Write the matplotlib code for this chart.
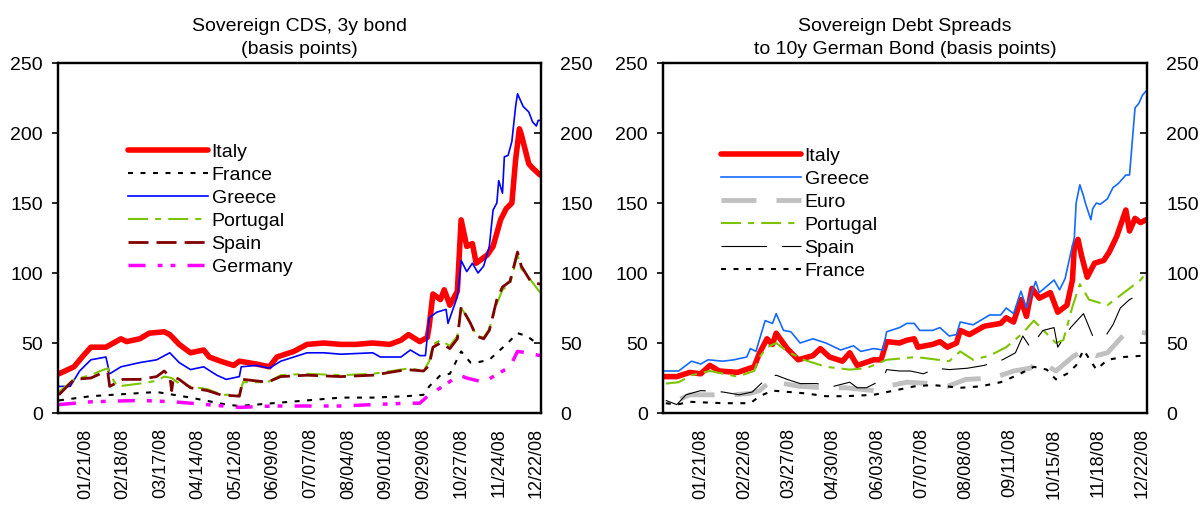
import numpy as np
import matplotlib
matplotlib.use("Agg")
import matplotlib.pyplot as plt

plt.rcParams['font.family'] = ['Liberation Sans', 'DejaVu Sans']

# ---------------- Sovereign CDS, 3y (business days counted from 2008-01-01) ----------------
cds_start = '2008-01-01'
cds_last_day = 256
cds_tick_dates = ['2008-01-21', '2008-02-18', '2008-03-17', '2008-04-14', '2008-05-12',
                  '2008-06-09', '2008-07-07', '2008-08-04', '2008-09-01', '2008-09-29',
                  '2008-10-27', '2008-11-24', '2008-12-22']
cds_tick_labels = ['01/21/08', '02/18/08', '03/17/08', '04/14/08', '05/12/08', '06/09/08',
                   '07/07/08', '08/04/08', '09/01/08', '09/29/08', '10/27/08', '11/24/08',
                   '12/22/08']

cds_italy_days = [0, 8, 13, 17, 25, 33, 36, 43, 48, 56, 59, 64, 70, 77, 80, 86, 93, 96, 105,
                  112, 116, 125, 132, 141, 150, 158, 167, 176, 182, 186, 192, 196, 197, 199,
                  203, 205, 208, 212, 214, 217, 220, 222, 228, 231, 235, 238, 241, 243, 245,
                  246, 250, 252, 256]
cds_italy = [28, 33, 41, 47, 47, 53, 51, 53, 57, 58, 56, 49, 43, 45, 40, 37, 34, 37, 35,
             33, 40, 44, 49, 50, 49, 49, 50, 49, 52, 56, 51, 54, 62, 85,
             81, 88, 77, 87, 138, 119, 121, 107, 113, 119, 138, 146, 150, 181, 203,
             199, 178, 175, 170]

cds_france_days = [0, 17, 52, 70, 89, 96, 114, 132, 150, 167, 185, 194, 197, 203, 208, 214,
                   219, 222, 229, 238, 244, 249, 254, 256]
cds_france = [9, 12, 15, 11, 6, 5, 7, 9, 11, 11, 12, 13, 19, 27, 28, 44,
              36, 36, 38, 49, 57, 55, 50, 50]

cds_greece_days = [0, 6, 11, 17, 25, 27, 33, 43, 52, 59, 64, 70, 77, 84, 89, 96, 97, 105,
                   112, 118, 125, 132, 141, 150, 167, 171, 182, 187, 192, 195, 197, 201, 206,
                   207, 212, 213, 214, 217, 220, 223, 226, 229, 231, 233, 234, 236, 237, 239,
                   241, 243, 244, 247, 250, 252, 254, 255, 256]
cds_greece = [19, 19, 30, 38, 40, 28, 33, 36, 38, 43, 36, 31, 33, 27, 24, 26, 33, 34,
              32, 37, 40, 43, 43, 42, 43, 40, 40, 45, 41, 41, 68, 72, 74,
              64, 83, 95, 109, 101, 107, 100, 105, 119, 145, 150, 166, 157, 183, 184,
              194, 219, 228, 219, 215, 208, 205, 209, 209]

cds_portugal_days = [0, 8, 17, 22, 26, 27, 31, 43, 52, 56, 60, 64, 70, 79, 87, 96, 98, 111,
                     118, 132, 150, 167, 187, 194, 197, 199, 203, 208, 212, 214, 219, 222,
                     226, 229, 233, 236, 240, 244, 246, 251, 256]
cds_portugal = [15, 24, 27, 30, 32, 28, 19, 21, 23, 26, 25, 21, 19, 17, 13, 13, 22, 22,
                27, 28, 27, 28, 32, 30, 37, 49, 52, 48, 55, 75, 65, 55,
                54, 60, 78, 88, 92, 113, 103, 95, 86]

cds_spain_days = [0, 8, 17, 22, 26, 27, 34, 43, 52, 56, 59, 60, 61, 64, 70, 79, 86, 96, 98,
                  111, 118, 132, 150, 167, 185, 194, 197, 199, 203, 208, 212, 214, 219, 222,
                  226, 229, 233, 236, 240, 244, 246, 251, 256]
cds_spain = [13, 24, 25, 28, 29, 19, 24, 24, 26, 30, 26, 16, 26, 24, 18, 16, 13, 12, 24,
             22, 26, 27, 26, 27, 31, 30, 34, 47, 50, 46, 53, 76, 64, 55,
             53, 59, 81, 90, 94, 115, 105, 94, 92]

cds_germany_days = [0, 17, 43, 61, 79, 96, 114, 132, 150, 167, 185, 192, 197, 203, 213, 217,
                    226, 231, 240, 244, 249, 256]
cds_germany = [6, 8, 9, 8, 6, 4, 5, 5, 5, 6, 7, 7, 13, 18, 27, 25,
               22, 26, 33, 44, 43, 41]

# ------------- Spreads to 10y Bund (business days counted from 2007-12-24) -------------
spr_start = '2007-12-24'
spr_last_day = 262
spr_tick_dates = ['2008-01-21', '2008-02-22', '2008-03-27', '2008-04-30', '2008-06-03',
                  '2008-07-07', '2008-08-08', '2008-09-11', '2008-10-15', '2008-11-18',
                  '2008-12-22']
spr_tick_labels = ['01/21/08', '02/22/08', '03/27/08', '04/30/08', '06/03/08', '07/07/08',
                   '08/08/08', '09/11/08', '10/15/08', '11/18/08', '12/22/08']

spr_italy_days = [0, 7, 14, 20, 25, 30, 40, 49, 52, 56, 59, 61, 67, 73, 81, 85, 90, 97, 101,
                  105, 114, 118, 121, 128, 132, 136, 138, 146, 150, 154, 159, 161, 166, 174,
                  183, 186, 190, 194, 197, 200, 204, 210, 214, 219, 222, 223, 225, 227, 230,
                  234, 239, 242, 246, 251, 253, 256, 259, 262]
spr_italy = [26, 26, 29, 28, 34, 30, 29, 33, 43, 53, 49, 57, 46, 38, 41, 46, 40, 37, 43,
             34, 38, 38, 51, 50, 52, 53, 47, 49, 51, 47, 50, 59, 56, 62,
             64, 68, 65, 81, 69, 89, 82, 86, 72, 77, 95, 119, 124, 112, 97,
             107, 109, 115, 126, 145, 130, 139, 136, 138]

spr_greece_days = [0, 8, 15, 20, 24, 32, 38, 45, 47, 50, 55, 59, 61, 65, 69, 74, 81, 88, 96,
                   103, 107, 114, 119, 121, 128, 132, 136, 139, 146, 150, 155, 159, 161, 168,
                   177, 183, 186, 190, 194, 197, 202, 204, 212, 215, 218, 221, 223, 224, 226,
                   228, 229, 232, 233, 235, 237, 241, 244, 247, 251, 253, 256, 258, 260, 262]
spr_greece = [30, 30, 37, 35, 38, 37, 38, 40, 46, 44, 66, 64, 71, 59, 58, 50, 53, 50, 45,
              48, 44, 46, 45, 58, 61, 64, 64, 59, 59, 61, 55, 56, 65, 63,
              70, 70, 75, 71, 87, 75, 94, 86, 95, 88, 96, 114, 125, 150, 163,
              155, 150, 138, 146, 150, 149, 153, 161, 164, 170, 170, 218, 221, 227, 230]

spr_euro_days = [9, 14, 20, 38, 47, 52, 59, 65, 74, 88, 99, 114, 121, 132, 146, 154, 164,
                 179, 190, 199, 204, 213, 222, 228, 235, 241, 250, 259, 262]
spr_euro = [10, 13, 13, 13, 14, 16, 24, 21, 19, 18, 18, 16, 19, 22, 21, 19, 24,
            25, 30, 32, 37, 30, 40, 45, 41, 43, 56, 58, 57]

spr_portugal_days = [1, 8, 15, 25, 40, 49, 52, 56, 61, 67, 76, 88, 101, 110, 121, 137, 155,
                     161, 168, 177, 186, 195, 201, 204, 213, 217, 222, 226, 231, 241, 250,
                     259, 262]
spr_portugal = [21, 22, 27, 30, 26, 30, 40, 47, 50, 44, 38, 33, 31, 32, 38, 40, 37,
                44, 38, 41, 47, 57, 66, 62, 50, 52, 76, 92, 81, 77, 86,
                95, 100]

spr_spain_days = [1, 7, 12, 20, 32, 41, 48, 56, 61, 67, 74, 83, 92, 101, 105, 110, 119, 121,
                  128, 134, 141, 148, 155, 165, 174, 184, 191, 195, 199, 202, 206, 212, 214,
                  221, 228, 233, 240, 244, 248, 253, 261]
spr_spain = [9, 6, 13, 16, 15, 13, 15, 25, 27, 24, 21, 21, 19, 22, 18, 18, 24, 31,
             30, 30, 28, 32, 31, 32, 34, 38, 43, 55, 47, 52, 59, 61, 47,
             61, 71, 55, 55, 63, 75, 81, 86]

spr_france_days = [1, 7, 14, 32, 47, 52, 59, 68, 77, 88, 99, 114, 125, 136, 146, 161, 172,
                   183, 192, 201, 208, 213, 219, 224, 228, 235, 241, 250, 261]
spr_france = [7, 6, 8, 7, 7, 12, 16, 15, 14, 12, 12, 13, 16, 19, 20, 18, 19,
              22, 27, 33, 31, 24, 28, 34, 45, 31, 38, 40, 41]

y_ticks = [0, 50, 100, 150, 200, 250]

# ---------------- styles ----------------
RED = '#FF0000'
style_italy = dict(color=RED, lw=4.0, solid_capstyle='round')
style_france = dict(color='black', lw=1.5, dashes=(2.4, 3.6))
style_portugal = dict(color='#7DC400', lw=1.5, dashes=(9.6, 3.4, 2.9, 3.4))
TICK_FS = 13
TEXT_FS = 14

fig = plt.figure(figsize=(12.04, 5.05), dpi=100)
W, H = 1204, 505


def make_axes(x0, x1):
    ax = fig.add_axes([x0 / W, (H - 413) / H, (x1 - x0) / W, 350 / H])
    for sp in ax.spines.values():
        sp.set_linewidth(1.6)
        sp.set_color('black')
    return ax


def finish_axes(ax, start, last_day, tick_dates, tick_labels):
    ax.set_xlim(-0.5, last_day + 0.5)
    ax.set_ylim(0, 250)
    ax.set_yticks(y_ticks)
    ax.tick_params(axis='y', direction='out', length=4, width=1.2, pad=7,
                   labelsize=TEXT_FS)
    pos = np.busday_count(start, tick_dates)
    ax.set_xticks(pos)
    ax.set_xticklabels(tick_labels, rotation=90, fontsize=TICK_FS)
    ax.tick_params(axis='x', length=0, pad=11)
    twin = ax.twinx()
    twin.set_ylim(0, 250)
    twin.set_yticks(y_ticks)
    twin.tick_params(axis='y', direction='in', length=5, width=1.2, pad=14,
                     labelsize=TEXT_FS)
    for sp in twin.spines.values():
        sp.set_linewidth(1.6)


def add_legend(ax, x_px, y_px):
    ax.legend(loc='upper left', bbox_to_anchor=(x_px / W, 1 - y_px / H),
              bbox_transform=fig.transFigure, frameon=False, fontsize=TEXT_FS,
              handlelength=4.1, handletextpad=0.2, labelspacing=0.28, borderpad=0,
              borderaxespad=0)


# ---------------- left panel ----------------
axL = make_axes(58, 541)
axL.plot(cds_italy_days, cds_italy, label='Italy', **style_italy)
axL.plot(cds_france_days, cds_france, label='France', **style_france)
axL.plot(cds_greece_days, cds_greece, label='Greece', color='#0000FF', lw=1.2)
axL.plot(cds_portugal_days, cds_portugal, label='Portugal', **style_portugal)
axL.plot(cds_spain_days, cds_spain, label='Spain', color='#800000', lw=2.0,
         dashes=(7.2, 2.9))
axL.plot(cds_germany_days, cds_germany, label='Germany', color='#FF00FF', lw=2.5,
         dashes=(4.9, 3.5, 1.4, 2.3, 1.4, 3.5))
axL.set_title('Sovereign CDS, 3y bond\n(basis points)', fontsize=TEXT_FS, pad=6.5,
              linespacing=1.45)
finish_axes(axL, cds_start, cds_last_day, cds_tick_dates, cds_tick_labels)
add_legend(axL, 128, 143)

# ---------------- right panel ----------------
axR = make_axes(663, 1147)
axR.plot(spr_italy_days, spr_italy, label='Italy', **style_italy)
axR.plot(spr_greece_days, spr_greece, label='Greece', color='#1469FF', lw=1.2)
axR.plot(spr_euro_days, spr_euro, label='Euro', color='#C0C0C0', lw=3.5,
         dashes=(7.2, 4.1))
axR.plot(spr_portugal_days, spr_portugal, label='Portugal', **style_portugal)
axR.plot(spr_spain_days, spr_spain, label='Spain', color='black', lw=0.8,
         dashes=(41, 13.5))
axR.plot(spr_france_days, spr_france, label='France', **style_france)
axR.set_title('Sovereign Debt Spreads\nto 10y German Bond (basis points)',
              fontsize=TEXT_FS, pad=6.5, linespacing=1.45)
finish_axes(axR, spr_start, spr_last_day, spr_tick_dates, spr_tick_labels)
add_legend(axR, 721, 147)

fig.savefig('out.png', dpi=100)
